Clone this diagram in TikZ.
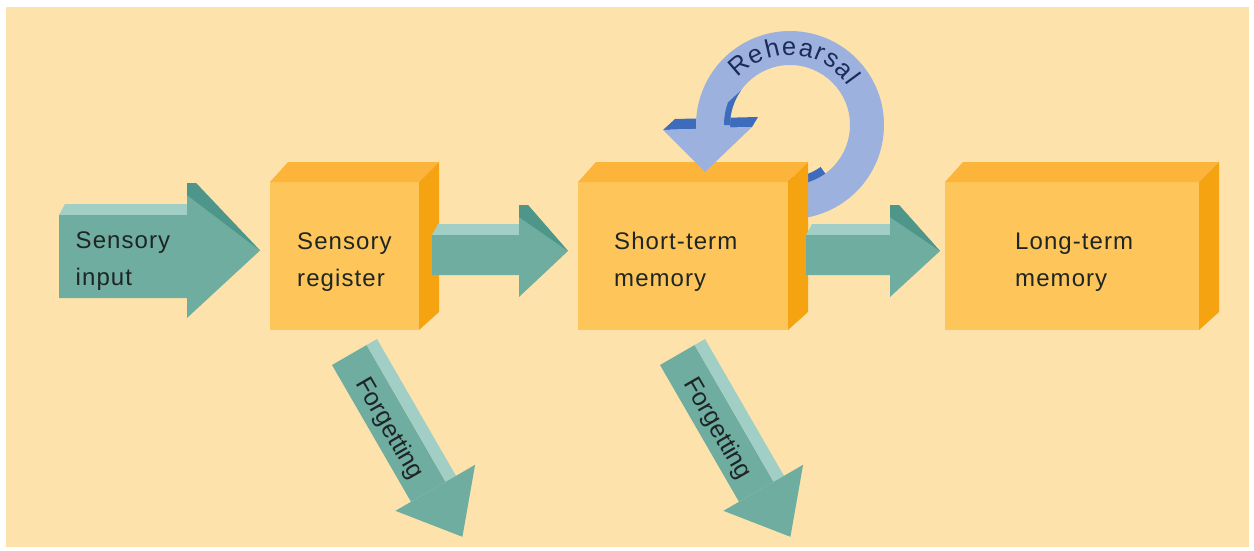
\documentclass[tikz,border=0pt]{standalone}
\usepackage{fontspec}
\setmainfont{Liberation Sans}
\newfontfamily\labfam[LetterSpace=4.5]{Liberation Sans}
\newcommand\labfont{\labfam\fontsize{24}{37}\selectfont}
\newcommand\rehfont{\labfam\fontsize{25.5}{30}\selectfont}
\newcommand\forgfont{\rmfamily\fontsize{25}{30}\selectfont}
\usetikzlibrary{decorations.text}
\definecolor{bg}{HTML}{FDE3AB}
\definecolor{tealF}{HTML}{6EADA0}
\definecolor{tealL}{HTML}{A2CFC5}
\definecolor{tealD}{HTML}{4F968A}
\definecolor{orF}{HTML}{FEC65A}
\definecolor{orT}{HTML}{FCB43A}
\definecolor{orS}{HTML}{F6A312}
\definecolor{blueL}{HTML}{9CB1DE}
\definecolor{blueD}{HTML}{3E6CBD}
\definecolor{ink}{HTML}{1E2524}
\definecolor{navy}{HTML}{1D2B5B}
\newcommand\memcube[4]{%
  \fill[orF] (#1,#2) rectangle (#3,#4);
  \fill[orT] (#1,#2) -- (#1+18,#2-20) -- (#3+20,#2-20) -- (#3,#2) -- cycle;
  \fill[orS] (#3,#2) -- (#3+20,#2-20) -- (#3+20,#4-18) -- (#3,#4) -- cycle;
}
\newcommand\blockarrow[7]{%
  \fill[tealL] (#1,#2) -- (#1+6,#2-11) -- (#4,#2-11) -- (#4,#2) -- cycle;
  \fill[tealF] (#1,#2) -- (#4,#2) -- (#4,#5) -- (#4+9,#5) -- (#7,{(#5+#6)/2}) -- (#4,#6) -- (#4,#3) -- (#1,#3) -- cycle;
  \fill[tealD] (#4,#5) -- (#4+9,#5) -- (#7,{(#5+#6)/2}) -- (#4,#5+12) -- cycle;
}
\newcommand\forgetarrow[1]{%
  \begin{scope}[shift={(#1,0)}]
    \fill[tealF] (332,365) -- (366.6,345) -- (445.6,481.8) -- (411,501.8) -- cycle;
    \fill[tealL] (366.6,345) -- (377,339) -- (456,475.8) -- (445.6,481.8) -- cycle;
    \fill[tealF] (395.4,510.8) -- (475.1,464.8) -- (462.4,536.8) -- cycle;
  \end{scope}
}
\tikzset{txt/.style={font=\labfont, text=ink, inner sep=0pt, align=left},
  ftxt/.style={font=\forgfont, text=ink, inner sep=0pt}}
\begin{document}
\begin{tikzpicture}[x=1pt,y=-1pt]
\useasboundingbox (0,0) rectangle (1254,551);
\fill[white] (0,0) rectangle (1254,551);
\fill[bg] (6,7) rectangle (1249,547);
% rehearsal loop (body, behind the box)
\fill[blueD] (663,130) -- (675,119) -- (758,117) -- (752,127) -- cycle;
\fill[blueL] (790,125) ++(95:94) arc[start angle=95,end angle=-180,radius=94]
  -- (696,131) -- (730,131) -- (730,125) arc[start angle=-180,end angle=95,radius=60] -- cycle;
\fill[blueD] (820.6,167.0) arc[start angle=54,end angle=95,radius=52]
  -- (784.8,184.8) arc[start angle=95,end angle=54,radius=60] -- cycle;
\fill[blueD] (740.9,90.6) arc[start angle=-145,end angle=-180,radius=60]
  -- (724,125) arc[start angle=-180,end angle=-160,radius=66] -- cycle;
\path[decorate,decoration={text along path,text={|\rehfont\color{navy}|Rehearsal},text align=fit to path}]
  (790,125) ++(-138:70) arc[start angle=-138,end angle=-34,radius=70];
% memory boxes
\memcube{270}{182}{419}{330}
\memcube{578}{182}{788}{330}
\memcube{945}{182}{1199}{330}
% rehearsal arrow head
\fill[blueL] (663,130) -- (752,127) -- (705,172) -- cycle;
% flow arrows
\blockarrow{59}{215}{298}{187}{183}{318}{260}
\blockarrow{432}{235}{275}{519}{205}{297}{568}
\blockarrow{806}{235}{275}{890}{205}{297}{940}
% forgetting arrows
\forgetarrow{0}
\forgetarrow{328}
% labels
\node[txt,anchor=west] (si) at (75.5,260.8) {Sensory\\input};
\node[txt,anchor=west] (sr) at (297,261.8) {Sensory\\register};
\node[txt,anchor=west] (stm) at (614,261.8) {Short-term\\memory};
\node[txt,anchor=west] (ltm) at (1015,261.8) {Long-term\\memory};
\node[ftxt,rotate=-60] (f1) at (389,429) {Forgetting};
\node[ftxt,rotate=-60] (f2) at (717,429) {Forgetting};
\end{tikzpicture}
\end{document}
